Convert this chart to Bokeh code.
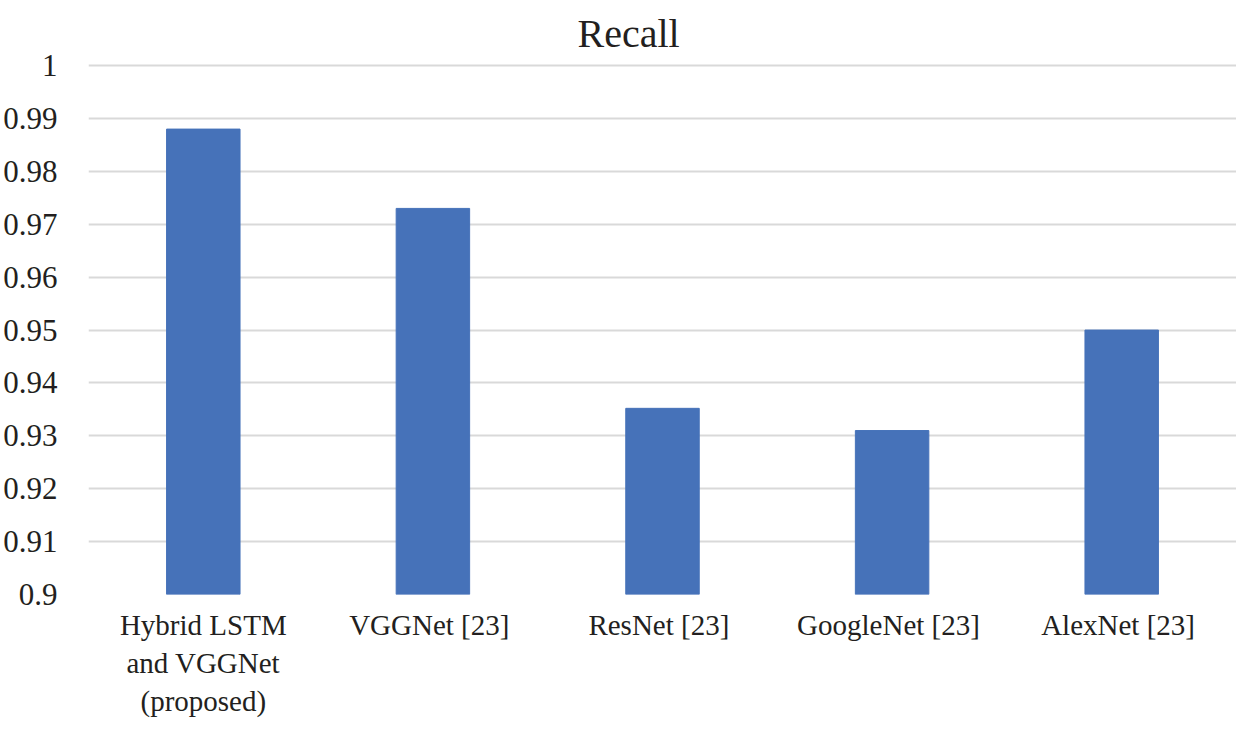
from bokeh.plotting import figure
from bokeh.models import FixedTicker, ColumnDataSource
from bokeh.embed import file_html
from bokeh.resources import INLINE

categories = ["Hybrid LSTM\nand VGGNet\n(proposed)", "VGGNet  [23]", "ResNet  [23]",
              "GoogleNet  [23]", "AlexNet  [23]"]
recall = [0.988, 0.973, 0.9352, 0.931, 0.950]
y_ticks = [0.9, 0.91, 0.92, 0.93, 0.94, 0.95, 0.96, 0.97, 0.98, 0.99, 1.0]
y_tick_labels = ["0.9", "0.91", "0.92", "0.93", "0.94", "0.95", "0.96", "0.97", "0.98", "0.99", "1"]

FONT = "Liberation Serif"
TXT = "#231f20"

src = ColumnDataSource(dict(cat=categories, val=recall))

p = figure(x_range=categories, y_range=(0.9, 1.0004),
           frame_width=1148, frame_height=531,
           output_backend="svg", toolbar_location=None, title="Recall",
           min_border_left=0, min_border_right=0, min_border_top=0,
           min_border_bottom=0)

p.vbar(x="cat", top="val", bottom=0.9, width=0.32, source=src,
       fill_color="#4672B9", line_color="#4672B9")

p.title.align = "left"
p.title.offset = 489
p.title.text_font = FONT
p.title.text_font_size = "40px"
p.title.text_font_style = "normal"
p.title.text_color = TXT
p.title.standoff = 16

p.outline_line_color = None
p.background_fill_color = "white"
p.border_fill_color = "white"

p.xgrid.grid_line_color = None
p.ygrid.grid_line_color = "#d9d9d9"
p.ygrid.grid_line_width = 2

p.yaxis.ticker = FixedTicker(ticks=y_ticks)
p.yaxis.major_label_overrides = {t: l for t, l in zip(y_ticks, y_tick_labels)}
for ax in (p.xaxis[0], p.yaxis[0]):
    ax.axis_line_color = None
    ax.major_tick_line_color = None
    ax.minor_tick_line_color = None
    ax.major_tick_out = 0
    ax.major_tick_in = 0
    ax.major_label_text_font = FONT
    ax.major_label_text_color = TXT
p.yaxis[0].major_label_text_font_size = "31px"
p.yaxis[0].major_label_standoff = 31
p.xaxis[0].major_label_text_font_size = "29px"
p.xaxis[0].major_label_text_line_height = 1.2
p.xaxis[0].major_label_standoff = 14

open("out.html", "w").write(file_html(p, INLINE))
